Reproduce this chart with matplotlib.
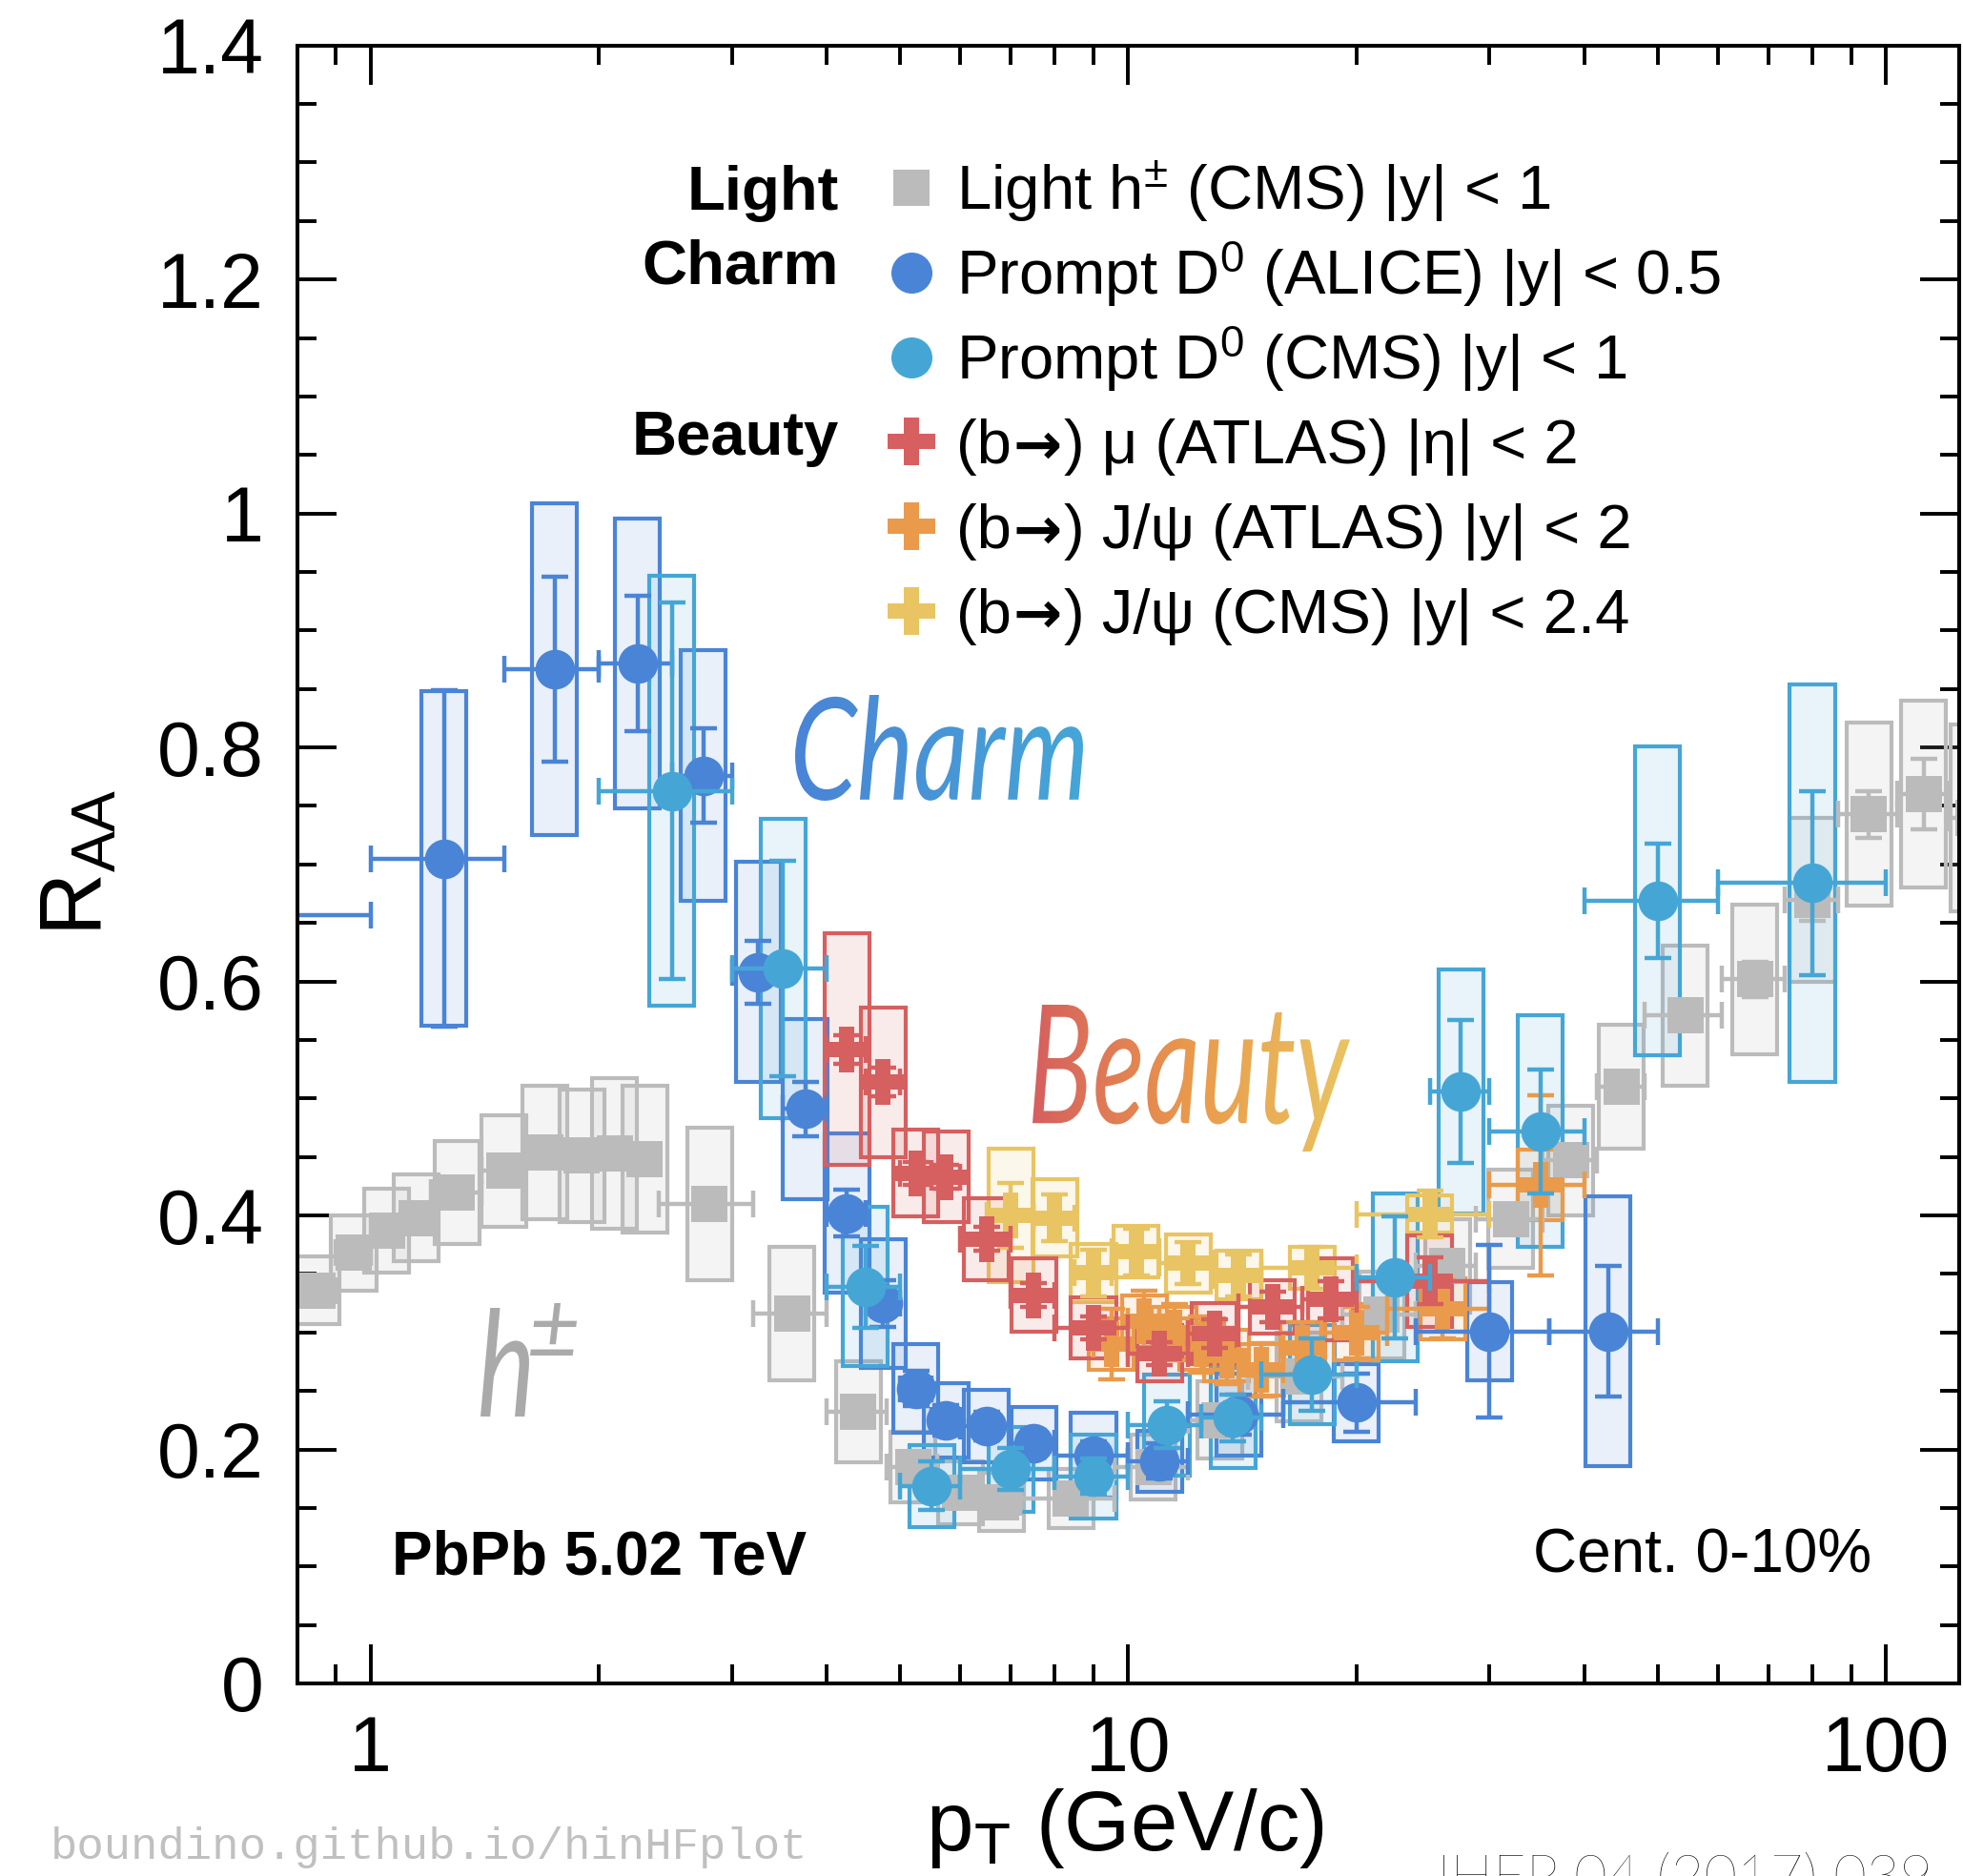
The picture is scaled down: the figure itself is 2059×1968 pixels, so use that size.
import numpy as np
import matplotlib
matplotlib.use("Agg")
import matplotlib.pyplot as plt
from matplotlib.patches import Rectangle, PathPatch
from matplotlib.path import Path
from matplotlib.textpath import TextPath
from matplotlib.font_manager import FontProperties
from matplotlib.colors import LinearSegmentedColormap, to_rgba
from matplotlib.ticker import NullFormatter

plt.rcParams['font.family'] = ['Liberation Sans', 'DejaVu Sans']
plt.rcParams['mathtext.fontset'] = 'custom'
plt.rcParams['mathtext.rm'] = 'Liberation Sans'
plt.rcParams['mathtext.it'] = 'Liberation Sans:italic'
plt.rcParams['mathtext.bf'] = 'Liberation Sans:bold'

W, H = 2059, 1968

# ---------------- data ----------------
# Light h+- (CMS) |y| < 1
h_pt = [0.85, 0.95, 1.05, 1.15, 1.3, 1.5, 1.7, 1.9, 2.1, 2.3, 2.8, 3.6, 4.4, 5.2, 6.0, 6.8,
        8.4, 10.8, 13.2, 16.8, 21.6, 26.4, 32.0, 38.4, 44.8, 54.4, 67.2, 80.0, 95.0, 112.2, 130.4]
h_lo = [0.8, 0.9, 1.0, 1.1, 1.2, 1.4, 1.6, 1.8, 2.0, 2.2, 2.4, 3.2, 4.0, 4.8, 5.6, 6.4,
        7.2, 9.6, 12.0, 14.4, 19.2, 24.0, 28.8, 35.2, 41.6, 48.0, 60.8, 73.6, 86.4, 103.6, 120.8]
h_hi = [0.9, 1.0, 1.1, 1.2, 1.4, 1.6, 1.8, 2.0, 2.2, 2.4, 3.2, 4.0, 4.8, 5.6, 6.4, 7.2,
        9.6, 12.0, 14.4, 19.2, 24.0, 28.8, 35.2, 41.6, 48.0, 60.8, 73.6, 86.4, 103.6, 120.8, 140.0]
h_r = [0.336, 0.368, 0.387, 0.398, 0.420, 0.438, 0.454, 0.451, 0.453, 0.448, 0.410, 0.316, 0.232,
       0.185, 0.163, 0.155, 0.158, 0.185, 0.225, 0.262, 0.315, 0.357, 0.397, 0.447, 0.510, 0.571,
       0.602, 0.670, 0.743, 0.760, 0.740]
h_stat = [0.002, 0.002, 0.002, 0.002, 0.002, 0.002, 0.002, 0.002, 0.002, 0.002, 0.003, 0.003, 0.003,
          0.003, 0.003, 0.003, 0.003, 0.003, 0.004, 0.004, 0.005, 0.006, 0.007, 0.008, 0.010, 0.012,
          0.015, 0.018, 0.020, 0.030, 0.040]
h_syst = [0.029, 0.032, 0.036, 0.037, 0.044, 0.048, 0.057, 0.057, 0.064, 0.063, 0.065, 0.057, 0.043,
          0.030, 0.027, 0.025, 0.025, 0.028, 0.033, 0.038, 0.037, 0.040, 0.042, 0.047, 0.053, 0.060,
          0.064, 0.070, 0.078, 0.080, 0.080]

# Prompt D0 (ALICE) |y| < 0.5
a_pt = [0.5, 1.25, 1.75, 2.25, 2.75, 3.25, 3.75, 4.25, 4.75, 5.25, 5.75, 6.5, 7.5, 9.0, 11.0, 14.0, 20.0, 30.0, 43.0]
a_lo = [0.0, 1.0, 1.5, 2.0, 2.5, 3.0, 3.5, 4.0, 4.5, 5.0, 5.5, 6.0, 7.0, 8.0, 10.0, 12.0, 16.0, 24.0, 36.0]
a_hi = [1.0, 1.5, 2.0, 2.5, 3.0, 3.5, 4.0, 4.5, 5.0, 5.5, 6.0, 7.0, 8.0, 10.0, 12.0, 16.0, 24.0, 36.0, 50.0]
a_r = [0.657, 0.705, 0.867, 0.872, 0.776, 0.608, 0.491, 0.402, 0.325, 0.252, 0.225, 0.220, 0.205,
       0.195, 0.190, 0.230, 0.240, 0.301, 0.301]
a_stat = [0.050, 0.144, 0.079, 0.058, 0.040, 0.027, 0.023, 0.020, 0.020, 0.015, 0.013, 0.012, 0.012,
          0.012, 0.015, 0.017, 0.025, 0.074, 0.056]
a_syst = [0.100, 0.143, 0.142, 0.124, 0.107, 0.094, 0.077, 0.068, 0.055, 0.038, 0.032, 0.031, 0.031,
          0.036, 0.026, 0.035, 0.033, 0.042, 0.115]

# Prompt D0 (CMS) |y| < 1
c_pt = [2.5, 3.5, 4.5, 5.5, 7.0, 9.0, 11.25, 13.75, 17.5, 22.5, 27.5, 35.0, 50.0, 80.0]
c_lo = [2.0, 3.0, 4.0, 5.0, 6.0, 8.0, 10.0, 12.5, 15.0, 20.0, 25.0, 30.0, 40.0, 60.0]
c_hi = [3.0, 4.0, 5.0, 6.0, 8.0, 10.0, 12.5, 15.0, 20.0, 25.0, 30.0, 40.0, 60.0, 100.0]
c_r = [0.763, 0.611, 0.339, 0.169, 0.183, 0.177, 0.221, 0.227, 0.264, 0.347, 0.506, 0.472, 0.669, 0.684]
c_stat = [0.161, 0.092, 0.035, 0.021, 0.018, 0.015, 0.020, 0.020, 0.031, 0.052, 0.061, 0.053, 0.049, 0.079]
c_syst = [0.184, 0.128, 0.068, 0.035, 0.036, 0.036, 0.043, 0.043, 0.042, 0.072, 0.104, 0.099, 0.132, 0.170]

# (b->) mu (ATLAS) |eta| < 2
m_pt = [4.25, 4.75, 5.25, 5.75, 6.5, 7.5, 9.0, 11.0, 13.0, 15.5, 18.5, 25.0]
m_lo = [4.0, 4.5, 5.0, 5.5, 6.0, 7.0, 8.0, 10.0, 12.0, 14.0, 17.0, 20.0]
m_hi = [4.5, 5.0, 5.5, 6.0, 7.0, 8.0, 10.0, 12.0, 14.0, 17.0, 20.0, 30.0]
m_r = [0.542, 0.514, 0.436, 0.433, 0.380, 0.332, 0.304, 0.282, 0.299, 0.322, 0.328, 0.344]
m_stat = [0.012, 0.012, 0.010, 0.010, 0.010, 0.010, 0.010, 0.010, 0.012, 0.013, 0.016, 0.020]
m_syst = [0.099, 0.064, 0.037, 0.039, 0.035, 0.031, 0.026, 0.024, 0.026, 0.023, 0.035, 0.039]

# (b->) J/psi (ATLAS) |y| < 2
j_pt = [9.5, 10.5, 11.5, 12.5, 13.5, 15.0, 17.0, 20.0, 26.0, 35.0]
j_lo = [9.0, 10.0, 11.0, 12.0, 13.0, 14.0, 16.0, 18.0, 22.0, 30.0]
j_hi = [10.0, 11.0, 12.0, 13.0, 14.0, 16.0, 18.0, 22.0, 30.0, 40.0]
j_r = [0.290, 0.310, 0.300, 0.290, 0.280, 0.268, 0.287, 0.300, 0.320, 0.426]
j_stat = [0.030, 0.026, 0.024, 0.024, 0.024, 0.023, 0.022, 0.022, 0.025, 0.077]
j_syst = [0.022, 0.022, 0.022, 0.022, 0.022, 0.022, 0.022, 0.024, 0.026, 0.030]

# (b->) J/psi (CMS) |y| < 2.4
y_pt = [7.0, 8.0, 9.0, 10.25, 12.0, 14.0, 17.5, 25.0]
y_lo = [6.5, 7.5, 8.5, 9.5, 11.0, 13.0, 15.0, 20.0]
y_hi = [7.5, 8.5, 9.5, 11.0, 13.0, 15.0, 20.0, 30.0]
y_r = [0.400, 0.398, 0.351, 0.369, 0.359, 0.349, 0.355, 0.401]
y_stat = [0.028, 0.020, 0.020, 0.020, 0.018, 0.018, 0.018, 0.020]
y_syst = [0.057, 0.033, 0.025, 0.022, 0.025, 0.021, 0.018, 0.016]

x_major = [1, 10, 100]
x_major_labels = ['1', '10', '100']
y_major = [0, 0.2, 0.4, 0.6, 0.8, 1.0, 1.2, 1.4]
y_major_labels = ['0', '0.2', '0.4', '0.6', '0.8', '1', '1.2', '1.4']

# legend entries; the b-decay ones are split around the arrow
legend_labels = [
    (r'Light h$^{\pm}$ (CMS) |y| < 1',),
    (r'Prompt D$^{0}$ (ALICE) |y| < 0.5',),
    (r'Prompt D$^{0}$ (CMS) |y| < 1',),
    ('(b', '\u2192', ') \u03bc (ATLAS) |\u03b7| < 2'),
    ('(b', '\u2192', ') J/\u03c8 (ATLAS) |y| < 2'),
    ('(b', '\u2192', ') J/\u03c8 (CMS) |y| < 2.4'),
]

GREY = '#bbbbbb'
ALICE = '#4a84d6'
CMSD = '#45a6d6'
RED = '#d65f5f'
ORANGE = '#ea9a4b'
YELLOW = '#e9c462'

# ---------------- figure ----------------
fig = plt.figure(figsize=(W / 100, H / 100), dpi=100)
ax = fig.add_axes([311.7 / W, 1 - 1766 / H, (2055 - 311.7) / W, (1766 - 47.7) / H])
ax.set_xscale('log')
ax.set_xlim(0.8, 125)
ax.set_ylim(0, 1.4)

BOXF = 10 ** 0.0296


def draw_boxes(pt, r, syst, color, z, alpha=0.12):
    for x, y, s in zip(pt, r, syst):
        x0, x1 = x / BOXF, x * BOXF
        ax.add_patch(Rectangle((x0, y - s), x1 - x0, 2 * s, facecolor=to_rgba(color, alpha),
                               edgecolor=color, lw=3.0, zorder=z))


def draw_points(pt, lo, hi, r, stat, color, marker, ms, z):
    pt = np.asarray(pt)
    lo = np.maximum(np.asarray(lo), 0.01)
    hi = np.asarray(hi)
    ax.errorbar(pt, r, yerr=stat, xerr=[pt - lo, hi - pt], fmt='none', ecolor=color,
                elinewidth=3.2, capsize=10, capthick=3.2, zorder=z)
    ax.plot(pt, r, ls='none', marker=marker, ms=ms, color=color, mew=0, zorder=z + 0.05)


draw_boxes(h_pt, h_r, h_syst, GREY, 2.0, alpha=0.15)
draw_boxes(a_pt, a_r, a_syst, ALICE, 2.1)
draw_boxes(c_pt, c_r, c_syst, CMSD, 2.2)
draw_boxes(y_pt, y_r, y_syst, YELLOW, 2.3)
draw_boxes(j_pt, j_r, j_syst, ORANGE, 2.4)
draw_boxes(m_pt, m_r, m_syst, RED, 2.5)

draw_points(h_pt, h_lo, h_hi, h_r, h_stat, GREY, 's', 27, 3.0)
draw_points(y_pt, y_lo, y_hi, y_r, y_stat, YELLOW, 'P', 35, 3.2)
draw_points(j_pt, j_lo, j_hi, j_r, j_stat, ORANGE, 'P', 35, 3.4)
draw_points(m_pt, m_lo, m_hi, m_r, m_stat, RED, 'P', 35, 3.6)
draw_points(a_pt, a_lo, a_hi, a_r, a_stat, ALICE, 'o', 30, 3.8)
draw_points(c_pt, c_lo, c_hi, c_r, c_stat, CMSD, 'o', 30, 4.0)

ax.set_xticks(x_major, labels=x_major_labels)
ax.set_xticks([0.9] + list(range(2, 10)) + list(range(20, 100, 10)), minor=True)
ax.xaxis.set_minor_formatter(NullFormatter())
ax.set_yticks(y_major, labels=y_major_labels)
ax.set_yticks(np.arange(0, 1.401, 0.05), minor=True)
ax.tick_params(which='both', direction='in', top=True, right=True, width=2.8, labelsize=58)
ax.tick_params(which='major', length=29.5)
ax.tick_params(which='minor', length=14.4)
ax.tick_params(axis='y', pad=25)
ax.tick_params(axis='x', pad=24)
for sp in ax.spines.values():
    sp.set_linewidth(2.9)
    sp.set_zorder(10)

# ---------------- overlay (pixel coordinates from top) ----------------
ov = fig.add_axes([0, 0, 1, 1], zorder=5)
ov.axis('off')
ov.set_xlim(0, W)
ov.set_ylim(H, 0)
rend = fig.canvas.get_renderer()

# legend
rows = [197 + 88.8 * i for i in range(6)]
leg_style = [('s', GREY, 27), ('o', ALICE, 31), ('o', CMSD, 31),
             ('P', RED, 36), ('P', ORANGE, 36), ('P', YELLOW, 36)]
for yy, parts, (mk, col, ms) in zip(rows, legend_labels, leg_style):
    ov.plot([956], [yy], ls='none', marker=mk, color=col, ms=ms, mew=0)
    xx = 1003
    for k, part in enumerate(parts):
        if part == '\u2192':
            t = ov.text(xx + 2, yy + 23, part, fontsize=44, family='DejaVu Sans',
                        fontweight='bold', ha='left', va='baseline')
            xx += t.get_window_extent(rend).width + 4
        else:
            t = ov.text(xx, yy + 23, part, fontsize=47, ha='left', va='baseline')
            xx += t.get_window_extent(rend).width
for lab, yy in [('Light', rows[0] + 23), ('Charm', rows[1] + 12), ('Beauty', rows[3] + 14)]:
    ov.text(880, yy, lab, fontsize=47, fontweight='bold', ha='right', va='baseline')

ov.text(411, 1652, 'PbPb 5.02 TeV', fontsize=46, fontweight='bold', ha='left', va='baseline')
ov.text(1963, 1650, 'Cent. 0-10%', fontsize=46, ha='right', va='baseline')

# axis titles
ov.text(83, 905, r'R$_{\mathrm{AA}}$', fontsize=66, rotation=90, ha='center', va='center')
ov.text(1180, 1941, r'p$_{\mathrm{T}}$ (GeV/c)', fontsize=64, ha='center', va='baseline')

# footers
ov.text(53, 1950, 'boundino.github.io/hinHFplot', fontsize=34, color='#c0c0c0',
        family=['Liberation Mono', 'DejaVu Sans Mono'], ha='left', va='baseline')
ov.text(1497, 1988, 'JHEP 04 (2017) 039', fontsize=43, family=['Lato', 'DejaVu Sans'],
        fontweight='light', ha='left', va='baseline')

# hand-written gradient words
hand = FontProperties(family='Lato', style='italic', weight='normal')


def grad_word(s, box, cols):
    tp = TextPath((0, 0), s, size=100, prop=hand)
    v = tp.vertices
    e = tp.get_extents()
    x0, y0, x1, y1 = box
    sx = (x1 - x0) / e.width
    sy = (y1 - y0) / e.height
    nv = np.column_stack([x0 + (v[:, 0] - e.x0) * sx, y1 - (v[:, 1] - e.y0) * sy])
    patch = PathPatch(Path(nv, tp.codes), fc='none', ec='none')
    ov.add_patch(patch)
    cm = LinearSegmentedColormap.from_list('g', cols)
    im = ov.imshow(np.linspace(0, 1, 256)[None, :], cmap=cm, extent=[x0, x1, y1, y0],
                   aspect='auto', interpolation='bilinear', zorder=6)
    im.set_clip_path(patch)


grad_word('Charm', (834, 729, 1136, 840), [ALICE, CMSD])
grad_word('Beauty', (1083, 1054, 1416, 1208), [RED, ORANGE, YELLOW])
grad_word('h', (504, 1372, 555, 1486), ['#aaaaaa', '#aaaaaa'])
grad_word('\u00b1', (556, 1367, 605, 1422), ['#aaaaaa', '#aaaaaa'])

ov.set_xlim(0, W)
ov.set_ylim(H, 0)

fig.savefig('out.png', dpi=100)
